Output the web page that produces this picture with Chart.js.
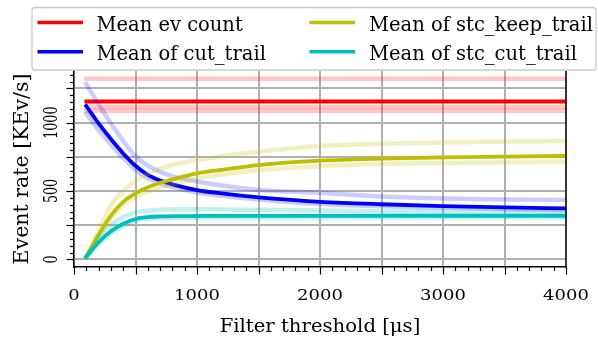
<!DOCTYPE html>
<html>
<head>
<meta charset="utf-8">
<script src="https://cdn.jsdelivr.net/npm/chart.js@4.4.0/dist/chart.umd.min.js"></script>
<style>
  html, body { margin: 0; padding: 0; background: #fff; }
</style>
</head>
<body>
<canvas id="myChart" width="598" height="337"></canvas>
<script>
// umbrales del filtro [µs] (eje x)
var umbrales = [100, 200, 300, 400, 500, 600, 700, 800, 1000, 1200, 1500, 2000, 2500, 3000, 3500, 4000];

// curvas medias [KEv/s]
var meanEv      = [1155, 1155, 1155, 1155, 1155, 1155, 1155, 1155, 1155, 1155, 1155, 1155, 1155, 1155, 1155, 1155];
var meanCut     = [1122, 995, 880, 775, 685, 618, 577, 549, 507, 482, 453, 421, 403, 390, 380, 373];
var meanKeepStc = [19, 180, 320, 420, 482, 527, 560, 585, 629, 655, 690, 722, 737, 746, 752, 756];
var meanCutStc  = [19, 125, 205, 260, 295, 309, 314, 316, 317, 318, 318, 318, 319, 319, 319, 319];

// corridas individuales (lineas tenues)
var runsEv = [
  [1321, 1321, 1321, 1321, 1321, 1321, 1321, 1321, 1321, 1321, 1321, 1321, 1321, 1321, 1321, 1321],
  [1115, 1115, 1115, 1115, 1115, 1115, 1115, 1115, 1115, 1115, 1115, 1115, 1115, 1115, 1115, 1115],
  [1088, 1088, 1088, 1088, 1088, 1088, 1088, 1088, 1088, 1088, 1088, 1088, 1088, 1088, 1088, 1088]
];
var runsCut = [
  [1282, 1135, 995, 865, 755, 685, 640, 608, 570, 540, 507, 487, 460, 445, 438, 434],
  [1065, 945, 840, 742, 655, 594, 556, 529, 489, 465, 438, 405, 388, 377, 367, 360]
];
var runsKeepStc = [
  [19, 215, 395, 500, 572, 625, 663, 692, 726, 755, 787, 829, 845, 855, 862, 866],
  [19, 165, 300, 398, 455, 495, 525, 548, 592, 620, 653, 682, 697, 705, 710, 714]
];
var runsCutStc = [
  [19, 150, 250, 310, 343, 357, 363, 365, 366, 365, 362, 357, 352, 348, 346, 345],
  [19, 110, 190, 243, 282, 297, 302, 304, 305, 306, 306, 307, 307, 307, 307, 307]
];

// textos
var xTicks = [0, 1000, 2000, 3000, 4000];
var yTicks = [0, 500, 1000];
var leyenda = ['Mean ev count', 'Mean of cut_trail', 'Mean of stc_keep_trail', 'Mean of stc_cut_trail'];
var tituloX = 'Filter threshold [\u03bcs]';
var tituloY = 'Event rate [KEv/s]';

var colores = ['#ff0000', '#0000ff', '#bfbf00', '#00bfbf'];
var tenues  = ['rgba(255,0,0,0.22)', 'rgba(0,0,255,0.2)', 'rgba(191,191,0,0.24)', 'rgba(0,191,191,0.24)'];

// convierte un array de valores a puntos {x,y}
function puntos(valores) {
  return umbrales.map(function (u, i) { return { x: u, y: valores[i] }; });
}

function linea(valores, color, ancho) {
  return {
    data: puntos(valores),
    borderColor: color,
    borderWidth: ancho,
    pointRadius: 0,
    fill: false,
    cubicInterpolationMode: 'monotone',
    borderCapStyle: 'square'
  };
}

// orden como en matplotlib: corridas tenues, luego la media, serie por serie
var series = [[runsEv, meanEv], [runsCut, meanCut], [runsKeepStc, meanKeepStc], [runsCutStc, meanCutStc]];
var lista = [];
series.forEach(function (s, k) {
  s[0].forEach(function (r) { lista.push(linea(r, tenues[k], 4.5)); });
  lista.push(linea(s[1], colores[k], 3.8));
});
// Chart.js dibuja el dataset 0 encima, por eso se invierte
lista.reverse();

var FUENTE = '"DejaVu Serif", "Liberation Serif", serif';

// texto (opcionalmente vertical) con estiramiento horizontal k
function textoCentro(ctx, str, x, y, size, k, vertical, alinear) {
  ctx.save();
  ctx.translate(x, y);
  ctx.scale(k, 1);
  if (vertical) ctx.rotate(-Math.PI / 2);
  ctx.font = size + 'px ' + FUENTE;
  ctx.fillStyle = '#000';
  ctx.textAlign = alinear || 'center';
  ctx.textBaseline = 'alphabetic';
  ctx.fillText(str, 0, 0);
  ctx.restore();
}

// plugin: marcas de ejes, etiquetas, titulos y leyenda
var ejes = {
  id: 'ejes',
  afterDraw: function (chart) {
    var ctx = chart.ctx, sx = chart.scales.x, sy = chart.scales.y, a = chart.chartArea;
    ctx.save();
    ctx.strokeStyle = '#000';
    ctx.lineWidth = 1.4;
    // eje derecho
    ctx.beginPath();
    ctx.moveTo(a.right, a.top);
    ctx.lineTo(a.right, a.bottom + 0.7);
    ctx.stroke();
    // marcas x
    ctx.lineWidth = 1.2;
    for (var v = 0; v <= 4000; v += 100) {
      var px = Math.round(sx.getPixelForValue(v)) + 0.5;
      var largo = (v % 500 === 0) ? 7.5 : 4;
      ctx.beginPath();
      ctx.moveTo(px, a.bottom);
      ctx.lineTo(px, a.bottom + largo);
      ctx.stroke();
    }
    // marcas y
    for (var w = 0; w <= 1350; w += 50) {
      var py = Math.round(sy.getPixelForValue(w)) + 0.5;
      var largoY = (w % 250 === 0) ? 7.5 : 4;
      ctx.beginPath();
      ctx.moveTo(a.left, py);
      ctx.lineTo(a.left - largoY, py);
      ctx.stroke();
    }
    ctx.restore();

    xTicks.forEach(function (t) {
      textoCentro(ctx, String(t), sx.getPixelForValue(t), 300, 15.5, 1.16, false);
    });
    yTicks.forEach(function (t) {
      textoCentro(ctx, String(t), 57, sy.getPixelForValue(t), 12.7, 1.4, true);
    });
    textoCentro(ctx, tituloX, (a.left + a.right) / 2, 331.5, 18.2, 1.08, false);
    textoCentro(ctx, tituloY, 28.3, (a.top + a.bottom) / 2, 20.5, 1.0, true);

    // leyenda
    ctx.save();
    ctx.fillStyle = 'rgba(255,255,255,0.85)';
    ctx.strokeStyle = '#cccccc';
    ctx.lineWidth = 1.3;
    ctx.beginPath();
    ctx.roundRect(32, 7.5, 564, 62.5, 3);
    ctx.fill();
    ctx.stroke();
    var cols = [[37.5, 83, 96.5], [309.5, 355, 369]];
    var filas = [22.5, 51.7];
    leyenda.forEach(function (lab, i) {
      var c = cols[Math.floor(i / 2)], f = filas[i % 2];
      ctx.strokeStyle = colores[i];
      ctx.lineWidth = 3.6;
      ctx.beginPath();
      ctx.moveTo(c[0], f);
      ctx.lineTo(c[1], f);
      ctx.stroke();
      textoCentro(ctx, lab, c[2], f + 8.5, 19.5, 1.0, false, 'left');
    });
    ctx.restore();
  }
};

var ctx = document.getElementById('myChart');
var myChart = new Chart(ctx, {
  type: 'line',
  data: { datasets: lista },
  options: {
    responsive: false,
    animation: false,
    devicePixelRatio: 1,
    layout: { padding: { top: 71, right: 32, left: 0, bottom: 0 } },
    plugins: { legend: { display: false }, tooltip: { enabled: false } },
    scales: {
      x: {
        type: 'linear',
        min: 0,
        max: 4000,
        afterFit: function (s) { s.height = 70; },
        ticks: { display: false, stepSize: 500 },
        grid: { color: '#b0b0b0', lineWidth: 2, drawTicks: false },
        border: { display: true, color: '#000', width: 1.4 }
      },
      y: {
        min: -56,
        max: 1378,
        afterFit: function (s) { s.width = 74; },
        afterBuildTicks: function (s) {
          s.ticks = [0, 250, 500, 750, 1000, 1250].map(function (v) { return { value: v }; });
        },
        ticks: { display: false },
        grid: { color: '#b0b0b0', lineWidth: 2, drawTicks: false },
        border: { display: true, color: '#000', width: 1.4 }
      }
    }
  },
  plugins: [ejes]
});
</script>
</body>
</html>
